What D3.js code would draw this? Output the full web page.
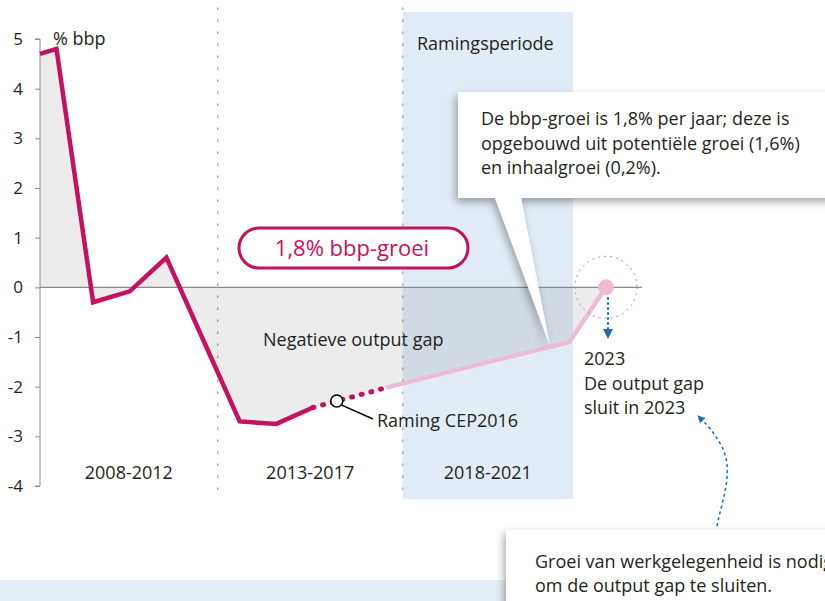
<!DOCTYPE html>
<html>
<head>
<meta charset="utf-8">
<script src="https://cdn.jsdelivr.net/npm/d3@7"></script>
<style>
  body { margin: 0; background: #fff; }
  svg { display: block; font-family: "Open Sans", sans-serif; }
</style>
</head>
<body>
<div id="chart"></div>
<script>
// data
const histYears = [2007.55, 2008, 2009, 2010, 2011, 2012, 2013, 2014, 2015];
const histValues = [4.7, 4.8, -0.3, -0.08, 0.6, -1.05, -2.7, -2.75, -2.42];
const cepYears = [2015, 2016, 2017];
const cepValues = [-2.42, -2.22, -2.02];
const fcYears = [2017, 2022, 2023];
const fcValues = [-2.02, -1.1, 0];
const yTicks = [5, 4, 3, 2, 1, 0, -1, -2, -3, -4];
const periods = ["2008-2012", "2013-2017", "2018-2021"];
const periodBounds = [2007.55, 2012.4, 2017.45, 2022.1];
const cepMark = { year: 2015.65, value: -2.29 };

const W = 825, H = 601;
const magenta = "#c5115f", pink = "#ecbcd4", blue = "#e2ecf6", ink = "#231f20";
const fs = "18px";

const x = d3.scaleLinear().domain([2007.55, 2023]).range([40, 606]);
const y = d3.scaleLinear().domain([-4, 5]).range([486, 39]);

const svg = d3.select("#chart").append("svg").attr("width", W).attr("height", H);

const defs = svg.append("defs");
const sh = defs.append("filter").attr("id", "shadow")
  .attr("x", "-20%").attr("y", "-20%").attr("width", "140%").attr("height", "160%");
sh.append("feDropShadow").attr("dx", -2).attr("dy", 4).attr("stdDeviation", 4)
  .attr("flood-color", "#000").attr("flood-opacity", 0.35);
defs.append("marker").attr("id", "arrow").attr("viewBox", "0 0 10 10")
  .attr("refX", 5).attr("refY", 5).attr("markerWidth", 5).attr("markerHeight", 5)
  .attr("orient", "auto-start-reverse")
  .append("path").attr("d", "M0,0L10,5L0,10z").attr("fill", "#1d6db5");

// bottom band
svg.append("rect").attr("x", 0).attr("y", 580).attr("width", 520).attr("height", 21).attr("fill", "#e6eef7");

// forecast band
svg.append("rect")
  .attr("x", x(periodBounds[2])).attr("y", 12)
  .attr("width", x(periodBounds[3]) - x(periodBounds[2])).attr("height", 487)
  .attr("fill", blue);

svg.append("text").attr("x", 417).attr("y", 50).attr("fill", ink)
  .style("font-size", fs).text("Ramingsperiode");

// dotted period dividers
[periodBounds[1], periodBounds[2]].forEach(b => {
  svg.append("line").attr("x1", x(b)).attr("x2", x(b)).attr("y1", 8).attr("y2", 500)
    .attr("stroke", "#aaa").attr("stroke-width", 1.5).attr("stroke-dasharray", "1.5 10.5")
    .attr("stroke-linecap", "round");
});

// gap area
const allPts = histYears.map((d, i) => [d, histValues[i]])
  .concat(cepYears.slice(1).map((d, i) => [d, cepValues[i + 1]]))
  .concat(fcYears.slice(1).map((d, i) => [d, fcValues[i + 1]]));
svg.append("path").datum(allPts)
  .attr("d", d3.area().x(d => x(d[0])).y0(y(0)).y1(d => y(d[1])))
  .attr("fill", "#000").attr("fill-opacity", 0.075);

// zero line
svg.append("line").attr("x1", 40).attr("x2", 642).attr("y1", y(0)).attr("y2", y(0))
  .attr("stroke", "#8a8a8a").attr("stroke-width", 1.2);

// y axis
const yAxis = svg.append("g").attr("transform", "translate(40,0)")
  .call(d3.axisLeft(y).tickValues(yTicks).tickSize(5).tickPadding(12).tickFormat(d => String(d)));
yAxis.select(".domain").attr("stroke", "#8a8a8a").attr("d", `M-5,${y(5)}H0V${y(-4)}H-5`);
yAxis.selectAll(".tick line").attr("stroke", "#8a8a8a");
yAxis.selectAll(".tick text").attr("fill", ink).style("font-size", "17px").style("font-family", "Open Sans");

svg.append("text").attr("x", 53).attr("y", 45).attr("fill", ink).style("font-size", fs).text("% bbp");

// period labels
periods.forEach((p, i) => {
  svg.append("text").attr("x", (x(periodBounds[i]) + x(periodBounds[i + 1])) / 2).attr("y", 479)
    .attr("text-anchor", "middle").attr("fill", ink).style("font-size", fs).text(p);
});

svg.append("text").attr("x", 263).attr("y", 346).attr("fill", ink)
  .style("font-size", fs).text("Negatieve output gap");

const line = d3.line().x(d => x(d[0])).y(d => y(d[1]));

// forecast line (light pink)
svg.append("path").datum(fcYears.map((d, i) => [d, fcValues[i]]))
  .attr("d", line).attr("fill", "none").attr("stroke", pink).attr("stroke-width", 4.5)
  .attr("stroke-linejoin", "round");
svg.append("circle").attr("cx", x(2023)).attr("cy", y(0)).attr("r", 8).attr("fill", pink);

// dashed circle round end point
svg.append("circle").attr("cx", x(2023)).attr("cy", y(0)).attr("r", 31)
  .attr("fill", "none").attr("stroke", "#999").attr("stroke-dasharray", "2 4");

// CEP2016 dotted
svg.append("path").datum(cepYears.map((d, i) => [d, cepValues[i]]))
  .attr("d", line).attr("fill", "none").attr("stroke", magenta).attr("stroke-width", 5)
  .attr("stroke-linecap", "round").attr("stroke-dasharray", "1 9");

// realised line
svg.append("path").datum(histYears.map((d, i) => [d, histValues[i]]))
  .attr("d", line).attr("fill", "none").attr("stroke", magenta).attr("stroke-width", 4.5)
  .attr("stroke-linejoin", "miter");

// Raming CEP2016 marker
const cx = x(cepMark.year), cy = y(cepMark.value);
svg.append("line").attr("x1", cx + 5).attr("y1", cy + 4).attr("x2", 373).attr("y2", 419)
  .attr("stroke", "#000").attr("stroke-width", 1.5);
svg.append("circle").attr("cx", cx).attr("cy", cy).attr("r", 6)
  .attr("fill", "#fff").attr("stroke", "#000").attr("stroke-width", 1.5);
svg.append("text").attr("x", 377).attr("y", 427).attr("fill", ink)
  .style("font-size", fs).text("Raming CEP2016");

// pill label
svg.append("rect").attr("x", 239).attr("y", 228).attr("width", 229).attr("height", 40)
  .attr("rx", 20).attr("fill", "#fff").attr("stroke", magenta).attr("stroke-width", 3);
svg.append("text").attr("x", 352).attr("y", 256).attr("text-anchor", "middle")
  .attr("fill", magenta).style("font-size", "22px").text("1,8% bbp-groei");

// blue dotted arrow down from end point
svg.append("line").attr("x1", x(2023) + 2).attr("x2", x(2023) + 2).attr("y1", y(0) + 10).attr("y2", 334)
  .attr("stroke", "#1d6db5").attr("stroke-width", 2).attr("stroke-dasharray", "2.5 2.5")
  .attr("marker-end", "url(#arrow)");

["2023", "De output gap", "sluit in 2023"].forEach((t, i) => {
  svg.append("text").attr("x", 584).attr("y", 365 + i * 24.5).attr("fill", ink)
    .style("font-size", fs).text(t);
});

// callout with pointer
svg.append("path")
  .attr("d", "M458,92H840V198H521L550,346L495,198H458Z")
  .attr("fill", "#fff").attr("filter", "url(#shadow)");
["De bbp-groei is 1,8% per jaar; deze is", "opgebouwd uit potentiële groei (1,6%)", "en inhaalgroei (0,2%)."]
  .forEach((t, i) => {
    svg.append("text").attr("x", 481).attr("y", 125 + i * 24.5).attr("fill", ink)
      .style("font-size", fs).text(t);
  });

// curved arrow from lower box
svg.append("path").attr("d", "M717,526C722,500 735,470 721,445C714,432 707,425 700,418")
  .attr("fill", "none").attr("stroke", "#1d6db5").attr("stroke-width", 1.5)
  .attr("stroke-dasharray", "3 3").attr("marker-end", "url(#arrow)");

svg.append("rect").attr("x", 506).attr("y", 530).attr("width", 340).attr("height", 90)
  .attr("fill", "#fff").attr("filter", "url(#shadow)");
["Groei van werkgelegenheid is nodig", "om de output gap te sluiten."].forEach((t, i) => {
  svg.append("text").attr("x", 535).attr("y", 568 + i * 24).attr("fill", ink)
    .style("font-size", fs).text(t);
});
</script>
</body>
</html>
